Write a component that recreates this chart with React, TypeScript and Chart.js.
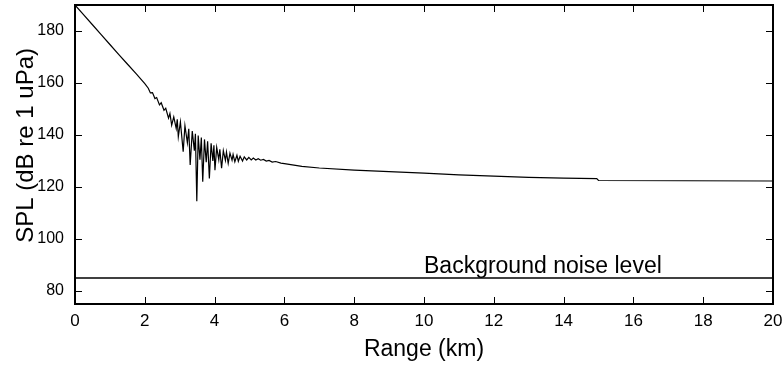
import React, { useEffect, useRef } from "react";
import { Chart, registerables } from "chart.js";

Chart.register(...registerables);

// Propagation loss curve: range (km) vs SPL (dB re 1 uPa)
const rangeKm = [
  0, 0.25, 0.5, 0.75, 1.0, 1.25, 1.5, 1.75, 2.0, 2.1,
  2.16, 2.22, 2.29, 2.34, 2.42, 2.47, 2.55, 2.6, 2.68, 2.72,
  2.77, 2.83, 2.9, 2.93, 2.96, 3.02, 3.1, 3.15, 3.22, 3.26,
  3.3, 3.36, 3.42, 3.45, 3.49, 3.53, 3.58, 3.62, 3.66, 3.71,
  3.76, 3.8, 3.85, 3.9, 3.95, 3.98, 4.01, 4.06, 4.12, 4.15,
  4.2, 4.25, 4.31, 4.34, 4.39, 4.44, 4.5, 4.53, 4.58, 4.64,
  4.68, 4.73, 4.8, 4.85, 4.92, 4.98, 5.05, 5.11, 5.18, 5.25,
  5.32, 5.4, 5.48, 5.56, 5.65, 5.75, 5.9, 6.0, 6.5, 7.0,
  8.0, 9.0, 10.0, 11.0, 12.0, 13.0, 14.0, 14.95, 15.0, 20.0,
];
const splDb = [
  190, 186.2, 182.4, 178.6, 174.8, 171.0, 167.3, 163.6, 159.8, 158.0,
  156.2, 156.3, 154.0, 154.4, 151.6, 152.4, 149.5, 150.3, 146.5, 148.3,
  143.8, 147.0, 142.5, 146.0, 139.3, 145.0, 133.6, 143.6, 137.0, 142.4,
  128.5, 141.5, 134.0, 140.5, 114.5, 139.8, 130.5, 139.0, 122.0, 138.3,
  129.5, 137.6, 123.3, 136.8, 130.0, 136.0, 126.5, 135.2, 130.5, 134.5,
  127.2, 134.0, 130.2, 133.4, 129.1, 133.0, 130.3, 132.5, 129.7, 132.2,
  129.9, 131.8, 130.0, 131.6, 130.4, 131.4, 130.4, 131.1, 130.4, 130.9,
  130.3, 130.6, 130.0, 130.2, 129.6, 129.8, 129.2, 129.0, 127.9, 127.3,
  126.5, 125.9, 125.3, 124.7, 124.2, 123.7, 123.4, 123.2, 122.5, 122.3,
];

// Background noise level line
const noiseRangeKm = [0, 20];
const noiseDb = [85, 85];

const xTickValues = [0, 2, 4, 6, 8, 10, 12, 14, 16, 18, 20];
const yTickValues = [80, 100, 120, 140, 160, 180];
const xLimits = [0, 20];
const yLimits = [75, 190];

const annotationText = "Background noise level";
const annotationAt = [10, 86.9];

const xTitle = "Range (km)";
const yTitle = "SPL (dB re 1 uPa)";

const FONT = "'Liberation Sans', Arial, Helvetica, sans-serif";

const frameAndTicks = {
  id: "frameAndTicks",
  afterDatasetsDraw(chart: any) {
    const { ctx, chartArea, scales } = chart;
    const { left, right, top, bottom } = chartArea;
    const x = scales.x;
    const y = scales.y;
    const L = 7;
    ctx.save();
    ctx.strokeStyle = "#000";
    ctx.lineWidth = 1;
    ctx.beginPath();
    for (const t of x.ticks) {
      const px = Math.round(x.getPixelForValue(t.value)) + 0.5;
      ctx.moveTo(px, bottom);
      ctx.lineTo(px, bottom - L);
      ctx.moveTo(px, top);
      ctx.lineTo(px, top + L);
    }
    for (const t of y.ticks) {
      const py = Math.round(y.getPixelForValue(t.value)) + 0.5;
      ctx.moveTo(left, py);
      ctx.lineTo(left + L, py);
      ctx.moveTo(right, py);
      ctx.lineTo(right - L, py);
    }
    ctx.stroke();
    ctx.lineWidth = 2;
    ctx.strokeRect(left, top, right - left, bottom - top);
    ctx.fillStyle = "#000";
    ctx.font = `23px ${FONT}`;
    ctx.textAlign = "left";
    ctx.textBaseline = "alphabetic";
    ctx.fillText(
      annotationText,
      x.getPixelForValue(annotationAt[0]),
      y.getPixelForValue(annotationAt[1])
    );
    // y-axis title
    ctx.save();
    ctx.translate(26, y.getPixelForValue(136));
    ctx.rotate(-Math.PI / 2);
    ctx.font = `24px ${FONT}`;
    ctx.textAlign = "center";
    ctx.textBaseline = "middle";
    ctx.fillText(yTitle, 0, 0);
    ctx.restore();
    ctx.restore();
  },
};

export default function App() {
  const canvasRef = useRef<HTMLCanvasElement | null>(null);

  useEffect(() => {
    const canvas = canvasRef.current;
    if (!canvas) return;
    const curve = rangeKm.map((r, i) => ({ x: r, y: splDb[i] }));
    const noise = noiseRangeKm.map((r, i) => ({ x: r, y: noiseDb[i] }));
    const chart = new Chart(canvas, {
      type: "line",
      data: {
        datasets: [
          {
            label: "SPL",
            data: curve,
            borderColor: "#000",
            borderWidth: 1.2,
            pointRadius: 0,
            tension: 0,
            fill: false,
          },
          {
            label: "Background noise level",
            data: noise,
            borderColor: "#000",
            borderWidth: 1.5,
            pointRadius: 0,
            tension: 0,
            fill: false,
          },
        ],
      },
      options: {
        animation: false,
        responsive: false,
        maintainAspectRatio: false,
        layout: { padding: { top: 5, right: 11, left: 0, bottom: 0 } },
        plugins: {
          legend: { display: false },
          tooltip: { enabled: false },
        },
        scales: {
          x: {
            type: "linear",
            min: xLimits[0],
            max: xLimits[1],
            grid: { display: false, drawTicks: false },
            border: { display: false },
            afterBuildTicks: (s: any) => {
              s.ticks = xTickValues.map((v) => ({ value: v }));
            },
            afterFit: (s: any) => {
              s.height = 65;
              s.paddingLeft = 0;
              s.paddingRight = 0;
            },
            ticks: {
              autoSkip: false,
              maxRotation: 0,
              padding: 7,
              color: "#000",
              font: { family: FONT, size: 17 },
            },
            title: {
              display: true,
              text: xTitle,
              color: "#000",
              font: { family: FONT, size: 23 },
              padding: { top: 0, bottom: 6 },
            },
          },
          y: {
            type: "linear",
            min: yLimits[0],
            max: yLimits[1],
            grid: { display: false, drawTicks: false },
            border: { display: false },
            afterBuildTicks: (s: any) => {
              s.ticks = yTickValues.map((v) => ({ value: v }));
            },
            afterFit: (s: any) => {
              s.width = 75;
              s.paddingTop = 0;
              s.paddingBottom = 0;
            },
            ticks: {
              autoSkip: false,
              padding: 11,
              color: "#000",
              font: { family: FONT, size: 16 },
            },
            title: { display: false, text: yTitle },
          },
        },
      },
      plugins: [frameAndTicks],
    });
    return () => chart.destroy();
  }, []);

  return (
    <div style={{ position: "fixed", left: 0, top: 0, width: 784, height: 369, background: "#fff" }}>
      <canvas ref={canvasRef} width={784} height={369} style={{ display: "block" }} />
    </div>
  );
}
